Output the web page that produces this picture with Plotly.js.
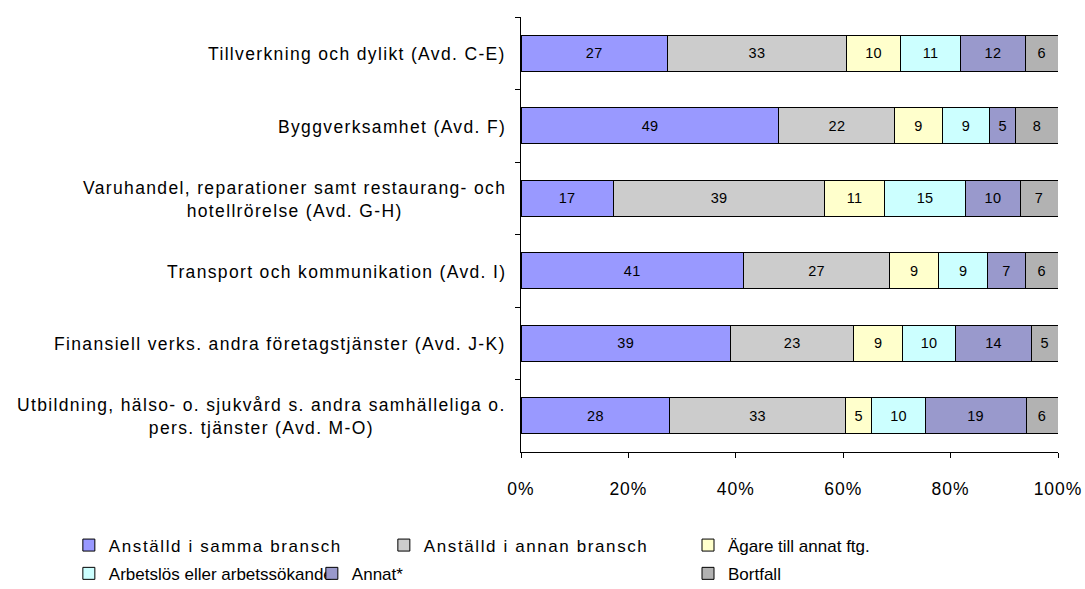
<!DOCTYPE html>
<html><head><meta charset="utf-8">
<script src="https://cdn.plot.ly/plotly-3.0.1.min.js"></script>
<style>
body{margin:0;background:#fff}#chart{width:1085px;height:589px}
.annotation-text{letter-spacing:1.35px}
.xtick text{letter-spacing:1px}
.bartext{letter-spacing:0.3px}
</style>
</head><body><div id="chart"></div>
<script>
const categories = [
  "Tillverkning och dylikt (Avd. C-E)",
  "Byggverksamhet (Avd. F)",
  "Varuhandel, reparationer samt restaurang- och<br>hotellrörelse (Avd. G-H)",
  "Transport och kommunikation (Avd. I)",
  "Finansiell verks. andra företagstjänster (Avd. J-K)",
  "Utbildning, hälso- o. sjukvård s. andra samhälleliga o.<br>pers. tjänster (Avd. M-O)"
];
const seriesNames = ["Anställd i samma bransch","Anställd i annan bransch","Ägare till annat ftg.","Arbetslös eller arbetssökande","Annat*","Bortfall"];
const samma    = [27, 49, 17, 41, 39, 28];
const annan    = [33, 22, 39, 27, 23, 33];
const agare    = [10,  9, 11,  9,  9,  5];
const arbetslos= [11,  9, 15,  9, 10, 10];
const annat    = [12,  5, 10,  7, 14, 19];
const bortfall = [ 6,  8,  7,  6,  5,  6];
const xTickVals = [0, 20, 40, 60, 80, 100];
const xTickText = ["0%","20%","40%","60%","80%","100%"];
const colors = ["#9999FF","#CCCCCC","#FFFFCC","#CCFFFF","#9999CC","#B2B2B2"];
const legendIds = ["legend","legend","legend4","legend2","legend2","legend3"];
const legendSpacing = [1.6, 1.6, 1.0, -0.3, 1.0, 1.4];
const legendFontSize = [17, 17, 17, 16, 17, 17];

const allSeries = [samma, annan, agare, arbetslos, annat, bortfall];
const font = "Liberation Sans, Arial, sans-serif";
const traces = allSeries.map((vals, i) => ({
  type: "bar", orientation: "h",
  name: seriesNames[i],
  y: categories, x: vals,
  text: vals.map(String),
  texttemplate: "%{text}",
  textposition: "inside", insidetextanchor: "middle", textangle: 0,
  insidetextfont: {family: font, size: 14.5, color: "#000"},
  marker: {color: colors[i], line: {color: "#000", width: 1}},
  legend: legendIds[i],
  hoverinfo: "x+name"
}));

const annotations = categories.map(c => ({
  xref: "paper", yref: "y", x: 0, y: c, xanchor: "right", yanchor: "middle",
  xshift: -13, yshift: -1, text: c, showarrow: false, align: "center",
  font: {family: font, size: 17.5, color: "#000"}
}));

const legBase = {orientation: "h", xanchor: "left", yanchor: "middle", traceorder: "normal",
  font: {family: font, size: 17, color: "#000"}, bgcolor: "rgba(0,0,0,0)",
  itemclick: false, itemdoubleclick: false, tracegroupgap: 0, itemwidth: 30};

const layout = {
  width: 1085, height: 589,
  margin: {l: 521, r: 27, t: 17, b: 137, autoexpand: false},
  paper_bgcolor: "#fff", plot_bgcolor: "#fff",
  barmode: "stack", barnorm: "percent", bargap: 0.5,
  font: {family: font, size: 17, color: "#000"},
  showlegend: true,
  xaxis: {range: [0, 100], tickvals: xTickVals, ticktext: xTickText,
    ticks: "outside", ticklen: 5, tickcolor: "#000", showline: true, linecolor: "#000",
    linewidth: 1, showgrid: false, zeroline: false, fixedrange: true, ticklabelstandoff: 16,
    tickfont: {family: font, size: 17.5, color: "#000"}},
  yaxis: {type: "category", autorange: "reversed", showticklabels: false,
    ticks: "outside", tickson: "boundaries", ticklen: 5, tickcolor: "#000",
    showline: true, linecolor: "#000", linewidth: 1, showgrid: false, fixedrange: true},
  annotations: annotations,
  legend: Object.assign({}, legBase, {x: -0.842, y: -0.215, entrywidth: 270, entrywidthmode: "pixels"}),
  legend4: Object.assign({}, legBase, {x: 0.311, y: -0.215}),
  legend2: Object.assign({}, legBase, {x: -0.842, y: -0.28, entrywidth: 198, entrywidthmode: "pixels"}),
  legend3: Object.assign({}, legBase, {x: 0.311, y: -0.28})
};
Plotly.newPlot("chart", traces, layout, {displayModeBar: false, staticPlot: true}).then(() => {
  document.querySelectorAll("#chart .legendtext").forEach(el => {
    const idx = seriesNames.indexOf(el.textContent);
    if (idx >= 0) {
      el.style.fontSize = legendFontSize[idx] + "px";
      el.style.letterSpacing = legendSpacing[idx] + "px";
    }
  });
});
</script></body></html>
